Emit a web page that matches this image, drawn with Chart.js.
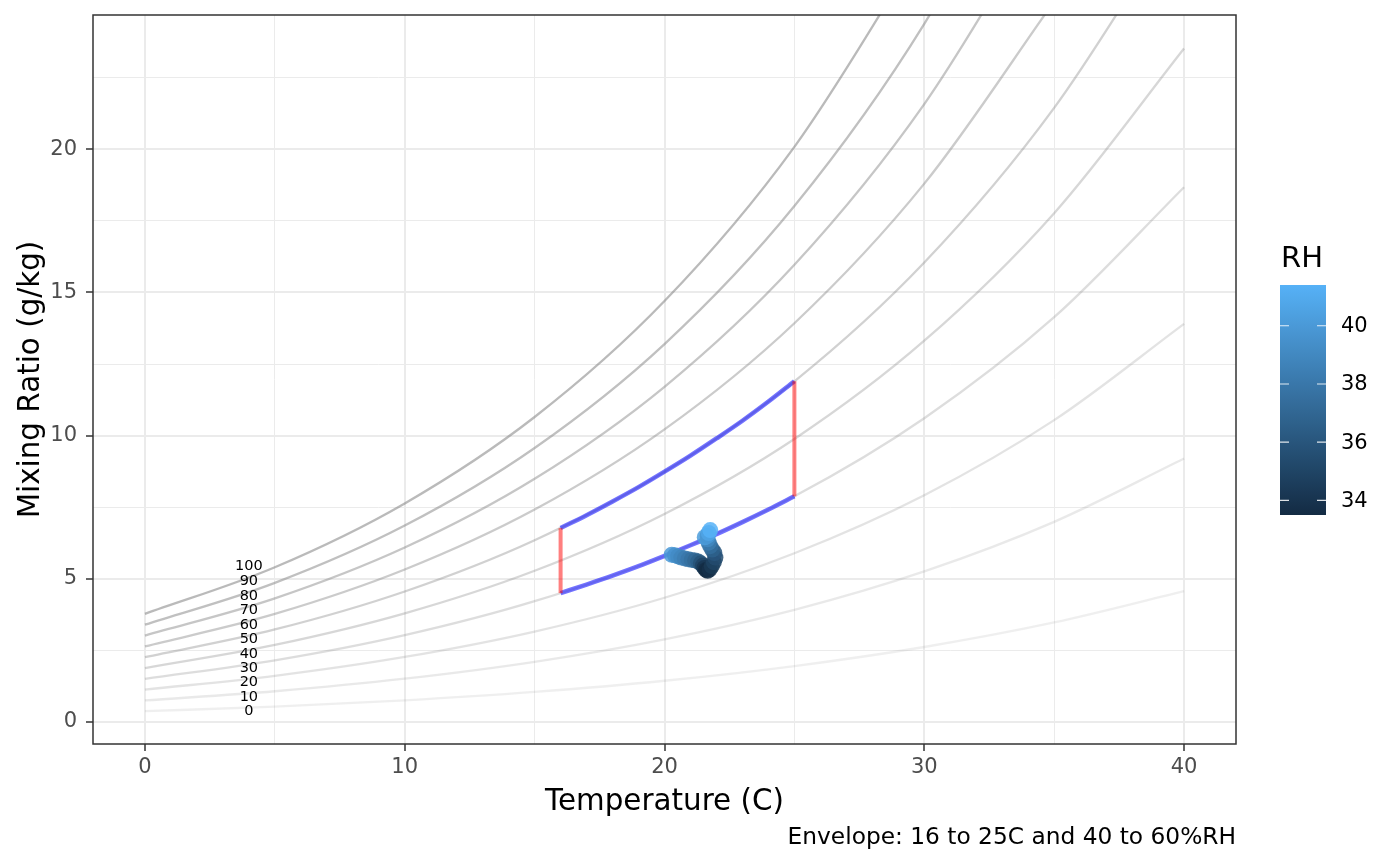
<!DOCTYPE html>
<html>
<head>
<meta charset="utf-8">
<script src="https://cdn.jsdelivr.net/npm/chart.js@4.4.1/dist/chart.umd.min.js"></script>
<style>
  html, body { margin: 0; padding: 0; background: #fff; }
  #wrap { width: 1400px; height: 865px; }
</style>
</head>
<body>
<div id="wrap"><canvas id="psychro" width="1400" height="865"></canvas></div>
<script>
// relative humidity curves, mixing ratio (g/kg) read at 0,5,...,40 C
const tempGrid = [0, 5, 10, 15, 20, 25, 30, 35, 40];
const rh10 = [0.375, 0.536, 0.755, 1.049, 1.439, 1.952, 2.618, 3.474, 4.566];
const rh20 = [0.751, 1.073, 1.512, 2.101, 2.885, 3.916, 5.258, 6.988, 9.200];
const rh30 = [1.128, 1.611, 2.270, 3.157, 4.338, 5.893, 7.920, 10.541, 13.903];
const rh40 = [1.505, 2.150, 3.031, 4.217, 5.797, 7.882, 10.605, 14.135, 18.676];
const rh50 = [1.882, 2.690, 3.793, 5.280, 7.264, 9.883, 13.314, 17.770, 23.522];
const rh60 = [2.260, 3.231, 4.557, 6.347, 8.737, 11.898, 16.045, 21.446, 28.442];
const rh70 = [2.638, 3.772, 5.323, 7.417, 10.217, 13.925, 18.800, 25.165];
const rh80 = [3.017, 4.315, 6.091, 8.491, 11.704, 15.966, 21.579, 28.927];
const rh90 = [3.396, 4.859, 6.860, 9.569, 13.198, 18.019, 24.382, 32.733];
const rh100 = [3.775, 5.403, 7.632, 10.650, 14.699, 20.086, 27.210];
const rhCurves = [rh10, rh20, rh30, rh40, rh50, rh60, rh70, rh80, rh90, rh100];

// curve labels, placed at 4 C
const labelText = ['0', '10', '20', '30', '40', '50', '60', '70', '80', '90', '100'];
const labelY = [0.38, 0.87, 1.40, 1.89, 2.38, 2.90, 3.39, 3.91, 4.40, 4.92, 5.45];
const labelX = 4;

// comfort envelope: 16 to 25 C, 40 to 60 %RH
const envTemp = [16, 17, 18, 19, 20, 21, 22, 23, 24, 25];
const envUpper = [6.77, 7.22, 7.70, 8.20, 8.74, 9.30, 9.90, 10.52, 11.19, 11.90];
const envLower = [4.50, 4.80, 5.11, 5.44, 5.80, 6.17, 6.56, 6.98, 7.42, 7.88];

// observations
const obsTemp = [20.28, 20.40, 20.52, 20.65, 20.78, 20.92, 21.05, 21.18, 21.30, 21.40, 21.48, 21.54, 21.60, 21.66, 21.74, 21.82, 21.90, 21.96, 21.92, 21.84, 21.76, 21.70, 21.66, 21.55, 21.66, 21.70, 21.76];
const obsMix = [5.84, 5.82, 5.78, 5.74, 5.71, 5.68, 5.66, 5.64, 5.60, 5.54, 5.46, 5.38, 5.31, 5.28, 5.33, 5.44, 5.58, 5.74, 5.90, 6.02, 6.14, 6.26, 6.38, 6.45, 6.50, 6.60, 6.70];
const obsRH = [40.0, 39.6, 39.2, 38.8, 38.4, 38.0, 37.6, 37.1, 36.6, 35.8, 35.0, 34.2, 33.6, 33.5, 33.8, 34.3, 34.9, 35.4, 36.0, 36.7, 37.4, 38.2, 39.0, 40.2, 39.8, 40.6, 41.4];

const xGrid = [0, 5, 10, 15, 20, 25, 30, 35, 40];
const yGrid = [0, 2.5, 5, 7.5, 10, 12.5, 15, 17.5, 20, 22.5];
const rhLegendTicks = [34, 36, 38, 40];

const rhMin = Math.min(...obsRH);
const rhMax = Math.max(...obsRH);
const lowCol = [19, 43, 67];
const highCol = [86, 177, 247];

function rhColor(v, a) {
    const t = (v - rhMin) / (rhMax - rhMin);
    const c = lowCol.map((lo, i) => Math.round(lo + (highCol[i] - lo) * t));
    return 'rgba(' + c[0] + ',' + c[1] + ',' + c[2] + ',' + a + ')';
}

const FONT = "'DejaVu Sans', sans-serif";
Chart.defaults.font.family = FONT;

const datasets = [];

datasets.push({
    label: 'obs',
    data: obsTemp.map((t, i) => ({ x: t, y: obsMix[i] })),
    showLine: false,
    pointRadius: 8,
    pointBorderWidth: 0,
    pointBackgroundColor: ctx => rhColor(obsRH[ctx.dataIndex], 0.85),
    order: 0
});

[[envLower[0], envUpper[0], envTemp[0]], [envLower[envLower.length - 1], envUpper[envUpper.length - 1], envTemp[envTemp.length - 1]]].forEach(([lo, hi, t]) => {
    datasets.push({
        data: [{ x: t, y: lo }, { x: t, y: hi }],
        showLine: true,
        borderColor: 'rgba(255,0,0,0.5)',
        borderWidth: 4,
        pointRadius: 0,
        order: 1
    });
});

[envUpper, envLower].forEach(arr => {
    datasets.push({
        data: envTemp.map((t, i) => ({ x: t, y: arr[i] })),
        showLine: true,
        borderColor: 'rgba(0,0,255,0.55)',
        borderWidth: 4.5,
        pointRadius: 0,
        cubicInterpolationMode: 'monotone',
        order: 2
    });
});

rhCurves.forEach((arr, k) => {
    const alpha = 0.13 + k * 0.046;
    datasets.push({
        data: arr.map((w, i) => ({ x: tempGrid[i], y: w })),
        showLine: true,
        borderColor: 'rgba(128,128,128,' + alpha + ')',
        borderWidth: 2.3,
        pointRadius: 0,
        cubicInterpolationMode: 'monotone',
        order: 3
    });
});

const decorations = {
    id: 'decorations',
    afterDatasetsDraw(chart) {
        const ctx = chart.ctx;
        const xs = chart.scales.x, ys = chart.scales.y;
        ctx.save();
        ctx.fillStyle = '#000';
        ctx.font = '14.5px ' + FONT;
        ctx.textAlign = 'center';
        ctx.textBaseline = 'middle';
        labelText.forEach((txt, i) => {
            ctx.fillText(txt, xs.getPixelForValue(labelX), ys.getPixelForValue(labelY[i]));
        });
        ctx.restore();
    },
    afterDraw(chart) {
        const ctx = chart.ctx;
        const a = chart.chartArea;
        ctx.save();
        // panel border
        ctx.strokeStyle = '#333333';
        ctx.lineWidth = 1.5;
        ctx.strokeRect(a.left, a.top, a.right - a.left, a.bottom - a.top);

        // axis titles
        ctx.fillStyle = '#000';
        ctx.font = '29.4px ' + FONT;
        ctx.textAlign = 'center';
        ctx.textBaseline = 'alphabetic';
        ctx.fillText('Temperature (C)', (a.left + a.right) / 2, 810);
        ctx.save();
        ctx.translate(39, (a.top + a.bottom) / 2);
        ctx.rotate(-Math.PI / 2);
        ctx.fillText('Mixing Ratio (g/kg)', 0, 0);
        ctx.restore();

        // caption
        ctx.font = '23.3px ' + FONT;
        ctx.textAlign = 'right';
        ctx.fillText('Envelope: 16 to 25C and 40 to 60%RH', a.right, 844);

        // colour bar legend
        const bx = 1280, bw = 46, by = 285, bh = 230;
        ctx.textAlign = 'left';
        ctx.font = '29px ' + FONT;
        ctx.fillText('RH', 1281, 267);
        const grad = ctx.createLinearGradient(0, by + bh, 0, by);
        for (let s = 0; s <= 10; s++) {
            const v = rhMin + (rhMax - rhMin) * s / 10;
            grad.addColorStop(s / 10, rhColor(v, 1));
        }
        ctx.fillStyle = grad;
        ctx.fillRect(bx, by, bw, bh);
        ctx.strokeStyle = 'rgba(255,255,255,0.85)';
        ctx.lineWidth = 1.2;
        ctx.font = '21px ' + FONT;
        ctx.fillStyle = '#000';
        ctx.textBaseline = 'middle';
        rhLegendTicks.forEach(v => {
            const py = by + bh - (v - rhMin) / (rhMax - rhMin) * bh;
            ctx.beginPath();
            ctx.moveTo(bx, py); ctx.lineTo(bx + 9, py);
            ctx.moveTo(bx + bw - 9, py); ctx.lineTo(bx + bw, py);
            ctx.stroke();
            ctx.fillText(String(v), 1341, py + 1);
        });
        ctx.restore();
    }
};

new Chart(document.getElementById('psychro').getContext('2d'), {
    type: 'scatter',
    data: { datasets: datasets },
    options: {
        responsive: false,
        animation: false,
        layout: { padding: { top: 15, right: 164, left: 0, bottom: 0 } },
        plugins: { legend: { display: false }, tooltip: { enabled: false } },
        scales: {
            x: {
                type: 'linear',
                min: -2, max: 42,
                afterBuildTicks: s => { s.ticks = xGrid.map(v => ({ value: v })); },
                afterFit: s => { s.height = 121; s.paddingLeft = 0; s.paddingRight = 0; },
                border: { display: false },
                grid: {
                    color: '#ebebeb',
                    lineWidth: c => (c.tick && c.tick.value % 10 === 0) ? 2 : 1,
                    tickColor: c => (c.tick && c.tick.value % 10 === 0) ? '#333333' : 'rgba(0,0,0,0)',
                    tickLength: 7,
                    tickWidth: 1.5
                },
                ticks: {
                    color: '#4d4d4d',
                    font: { size: 21 },
                    padding: 4,
                    maxRotation: 0,
                    autoSkip: false,
                    callback: v => v % 10 === 0 ? String(v) : ''
                }
            },
            y: {
                type: 'linear',
                min: -0.77, max: 24.69,
                afterBuildTicks: s => { s.ticks = yGrid.map(v => ({ value: v })); },
                afterFit: s => { s.width = 93; s.paddingTop = 0; s.paddingBottom = 0; },
                border: { display: false },
                grid: {
                    color: '#ebebeb',
                    lineWidth: c => (c.tick && c.tick.value % 5 === 0) ? 2 : 1,
                    tickColor: c => (c.tick && c.tick.value % 5 === 0) ? '#333333' : 'rgba(0,0,0,0)',
                    tickLength: 7,
                    tickWidth: 1.5
                },
                ticks: {
                    color: '#4d4d4d',
                    font: { size: 21 },
                    padding: 9,
                    autoSkip: false,
                    callback: v => v % 5 === 0 ? String(v) : ''
                }
            }
        }
    },
    plugins: [decorations]
});
</script>
</body>
</html>
